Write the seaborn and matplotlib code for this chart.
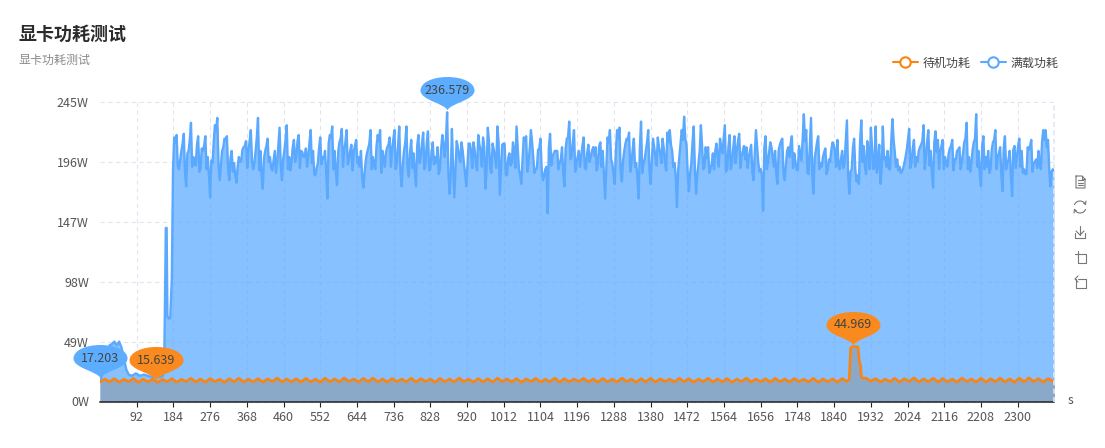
import numpy as np
import pandas as pd
import matplotlib
matplotlib.use("Agg")
import matplotlib.pyplot as plt
import seaborn as sns
from matplotlib.lines import Line2D
from matplotlib.path import Path
from matplotlib.patches import Arc

# values
x_ticks = [92 * i for i in range(1, 26)]
y_ticks = [0, 49, 98, 147, 196, 245]
x_end = 2391

# full load series: warm-up part, then peaks/dips every 6 s from t=186 with a
# reading from the dense middle band between each of them
startup_t = [0, 6, 12, 18, 24, 30, 36, 42, 48, 54, 60, 66, 72, 80, 90, 100, 110, 120, 130, 140, 150, 158, 161, 163, 165, 167, 169, 172, 176, 180, 183]
startup_w = [17.2, 22, 30, 38, 46, 47, 49, 46, 49, 44, 35, 26, 22, 21, 23, 21, 22, 21, 20, 20, 20, 21, 30, 90, 142, 142, 70, 68, 68, 100, 190]
load_w = [
    216, 218, 190, 205, 219, 176, 205, 228, 200, 193, 217, 190, 205, 217, 200, 167, 195, 226, 232, 181,
    205, 215, 217, 181, 205, 195, 179, 200, 197, 208, 213, 205, 222, 190, 205, 232, 205, 174, 205, 215,
    200, 189, 205, 195, 224, 181, 205, 226, 200, 195, 214, 200, 218, 205, 200, 207, 200, 222, 205, 185,
    195, 216, 200, 205, 166, 218, 225, 205, 177, 212, 223, 205, 222, 197, 210, 205, 214, 200, 205, 175,
    197, 207, 222, 200, 190, 218, 222, 205, 192, 208, 216, 205, 222, 195, 225, 176, 205, 225, 184, 214,
    203, 176, 218, 200, 220, 195, 221, 190, 212, 200, 208, 190, 218, 200, 236.579, 170, 223, 167, 213, 200,
    212, 195, 176, 211, 205, 212, 195, 218, 205, 216, 174, 224, 190, 211, 200, 225, 169, 210, 211, 185,
    203, 195, 205, 225, 190, 178, 216, 217, 195, 222, 200, 190, 206, 215, 181, 190, 154, 219, 200, 205,
    205, 195, 208, 176, 215, 229, 200, 222, 195, 205, 200, 216, 190, 210, 200, 208, 208, 195, 212, 205,
    166, 216, 222, 195, 178, 222, 224, 180, 205, 215, 220, 195, 215, 195, 166, 229, 195, 205, 222, 178,
    215, 200, 216, 203, 215, 195, 220, 222, 205, 195, 159, 200, 222, 233, 210, 172, 195, 225, 170, 195,
    226, 190, 208, 208, 190, 203, 205, 200, 215, 203, 226, 190, 218, 195, 217, 205, 219, 200, 209, 208,
    200, 210, 181, 222, 195, 190, 156, 217, 195, 212, 200, 205, 178, 210, 215, 181, 205, 200, 217, 203,
    190, 209, 197, 235, 222, 186, 232, 170, 205, 217, 195, 200, 207, 190, 196, 212, 205, 214, 190, 205,
    195, 230, 170, 190, 215, 180, 178, 230, 209, 186, 205, 224, 190, 225, 195, 178, 225, 200, 205, 190,
    231, 204, 198, 192, 188, 195, 206, 223, 196, 214, 200, 205, 210, 226, 200, 222, 205, 175, 221, 214,
    205, 214, 200, 192, 207, 214, 198, 205, 208, 195, 212, 228, 200, 195, 212, 235, 205, 176, 217, 200,
    205, 190, 212, 222, 200, 208, 172, 217, 195, 205, 168, 209, 200, 215, 205, 190, 186, 206, 214, 195,
    198, 205, 190, 222, 222, 214, 176, 190,
]
load_mid = [
    212, 192, 198, 211, 187, 203, 214, 192, 196, 210, 188, 207, 209, 190, 186, 197, 212, 222, 195, 193,
    208, 214, 191, 199, 188, 185, 192, 196, 206, 209, 191, 213, 197, 195, 216, 189, 185, 199, 209, 196,
    191, 197, 187, 209, 193, 198, 214, 190, 189, 208, 196, 213, 191, 204, 200, 192, 212, 195, 186, 191,
    207, 194, 199, 187, 211, 216, 190, 188, 204, 215, 192, 212, 194, 205, 189, 209, 195, 192, 184, 187,
    203, 211, 190, 193, 209, 213, 187, 199, 204, 210, 192, 214, 190, 209, 188, 194, 212, 190, 203, 191,
    187, 209, 195, 211, 190, 212, 189, 204, 194, 195, 186, 207, 210, 214, 188, 186, 192, 190, 208, 196,
    205, 187, 194, 211, 191, 206, 189, 210, 192, 208, 190, 212, 187, 206, 191, 212, 190, 211, 186, 199,
    193, 212, 191, 208, 185, 198, 213, 188, 207, 212, 187, 191, 207, 190, 184, 192, 208, 193, 203, 205,
    190, 198, 186, 207, 216, 198, 212, 188, 200, 192, 209, 191, 203, 196, 205, 201, 189, 209, 192, 186,
    191, 212, 198, 186, 205, 215, 188, 197, 211, 214, 188, 206, 192, 183, 207, 187, 198, 212, 190, 196,
    208, 193, 208, 195, 207, 189, 212, 210, 192, 184, 189, 211, 214, 215, 186, 187, 212, 190, 185, 205,
    209, 192, 199, 187, 194, 190, 211, 192, 207, 214, 188, 208, 190, 207, 195, 213, 191, 205, 198, 191,
    205, 187, 203, 209, 188, 185, 207, 190, 204, 208, 192, 186, 206, 213, 187, 193, 208, 211, 191, 196,
    189, 203, 214, 213, 187, 208, 186, 199, 212, 190, 192, 204, 186, 198, 206, 210, 192, 194, 198, 191,
    213, 186, 188, 207, 190, 185, 212, 196, 192, 213, 190, 208, 191, 187, 210, 189, 198, 192, 190, 212,
    214, 192, 189, 187, 191, 200, 214, 191, 207, 192, 196, 208, 213, 190, 212, 193, 186, 212, 204, 190,
    209, 190, 194, 203, 209, 189, 198, 206, 190, 203, 215, 190, 188, 206, 215, 192, 186, 209, 190, 192,
    187, 206, 214, 190, 203, 186, 207, 190, 198, 185, 206, 191, 209, 192, 187, 186, 208, 209, 188, 196,
    191, 195, 212, 214, 208, 190, 188, 190,
]

# idle series: one reading every 12 s, with the bump near t=1890 kept apart
idle_head_w = [
    15.9, 18.4, 16.1, 18.7, 15.8, 18.2, 16.3, 18.8, 15.7, 18.3, 16.0, 18.5, 15.64, 18.2, 16.2, 18.7, 15.9, 18.1, 16.4, 19.0,
    16.0, 18.4, 15.8, 18.8, 16.3, 18.2, 15.7, 18.7, 16.1, 19.1, 15.9, 18.3, 16.0, 18.8, 15.8, 18.5, 16.4, 19.2, 16.0, 18.4,
    16.2, 18.7, 15.9, 18.9, 16.1, 18.3, 15.8, 19.1, 16.3, 18.5, 16.0, 19.3, 16.4, 18.4, 15.9, 19.0, 16.2, 19.2, 16.0, 18.5,
    15.8, 18.8, 16.3, 18.3, 16.1, 19.1, 15.9, 18.7, 16.4, 18.4, 15.7, 19.0, 16.2, 18.5, 16.0, 19.2, 16.3, 18.3, 15.8, 18.8,
    16.1, 18.7, 15.9, 19.1, 16.4, 18.4, 16.0, 18.8, 15.7, 18.5, 16.3, 19.0, 15.9, 18.3, 16.2, 19.2, 15.8, 18.7, 16.1, 18.4,
    16.4, 19.0, 16.0, 18.5, 15.8, 18.8, 16.2, 18.3, 15.9, 19.1, 16.3, 18.4, 15.7, 18.7, 16.1, 19.0, 15.9, 18.5, 16.4, 18.3,
    16.0, 19.1, 16.2, 18.7, 15.8, 18.4, 16.3, 19.0, 15.9, 18.5, 16.1, 18.8, 15.7, 18.3, 16.4, 19.1, 16.0, 18.4, 16.2, 18.7,
    15.8, 19.0, 16.1, 18.5, 15.9, 18.8, 16.3, 18.3, 16.0, 19.0, 15.7, 18.5, 16.2, 18.4, 15.9, 18.8, 16.3,
]
idle_bump_t = [1878, 1881, 1884, 1892, 1900, 1903, 1906, 1908, 1912]
idle_bump_w = [18.5, 43.5, 44.6, 44.969, 44.6, 33, 30, 20.5, 19]
idle_tail_w = [
    19.2, 16.6, 18.8, 16.0, 18.4, 16.2, 19.0, 15.8, 18.7, 16.3, 19.3, 16.0, 18.5, 16.1, 19.1, 15.9, 18.8, 16.2, 18.3, 15.8,
    19.2, 16.3, 18.4, 16.0, 19.0, 15.9, 18.7, 16.2, 19.2, 16.0, 18.5, 15.8, 19.1, 16.1, 19.4, 16.3, 18.7, 16.0, 18.8, 16.6,
    18.4,
]

# pin labels: time, value, text
load_pins = [(0, 17.203, "17.203"), (870, 236.579, "236.579")]
idle_pins = [(140, 15.639, "15.639"), (1887, 44.969, "44.969")]

blue = "#5AA9FF"
orange = "#FB8410"
grid_color = "#E0E6F1"
text_color = "#555555"

sns.set_theme(style="white")
plt.rcParams["font.family"] = ["Noto Sans CJK SC", "DejaVu Sans"]

load_dense = np.column_stack([load_w, load_mid]).ravel()
load_df = pd.DataFrame({
    "t": np.concatenate([startup_t, 186 + 3 * np.arange(len(load_dense))]),
    "w": np.concatenate([startup_w, load_dense]),
})
idle_df = pd.DataFrame({
    "t": np.concatenate([12 * np.arange(len(idle_head_w)), idle_bump_t, 1920 + 12 * np.arange(len(idle_tail_w))]),
    "w": np.concatenate([idle_head_w, idle_bump_w, idle_tail_w]),
})

fig = plt.figure(figsize=(11.05, 4.48), dpi=100)
ax = fig.add_axes([100 / 1105, 1 - 401.5 / 448, 954 / 1105, 299.5 / 448])
ax.set_xlim(0, x_end)
ax.set_ylim(0, 245)
ax.set_axisbelow(True)

# area first, then line on top
ax.fill_between(load_df["t"], load_df["w"], color=blue, alpha=0.72, lw=0, zorder=1)
ax.fill_between(idle_df["t"], idle_df["w"], color="#8AA8C8", lw=0, zorder=1.5)
sns.lineplot(data=load_df, x="t", y="w", color=blue, lw=1.7, estimator=None, sort=False, ax=ax, zorder=2)
sns.lineplot(data=idle_df, x="t", y="w", color=orange, lw=1.9, estimator=None, sort=False, ax=ax, zorder=3)

ax.set_xticks(x_ticks, [str(v) for v in x_ticks])
ax.set_yticks(y_ticks, [f"{v}W" for v in y_ticks])
ax.grid(True, color=grid_color, lw=0.8, ls=(0, (4, 3)))
for line in ax.get_xgridlines() + ax.get_ygridlines():
    line.set_clip_on(False)
ax.axvline(x_end, color=grid_color, lw=1.2, ls=(0, (3, 2)), clip_on=False, zorder=4)
ax.tick_params(axis="x", length=3.6, width=0.8, color="#222222", labelsize=9, labelcolor=text_color, pad=3, bottom=True)
ax.tick_params(axis="y", length=0, labelsize=9, labelcolor=text_color, pad=8)
sns.despine(ax=ax, left=True)
ax.spines["bottom"].set_color("#222222")
ax.spines["bottom"].set_linewidth(1.1)

# the pin marker: tip just above the data point, oval above it
pin = Path(
    [(0, 2), (-2, 9), (-27, 12), (-27, 22), (-27, 30), (-15, 35.5), (0, 35.5),
     (15, 35.5), (27, 30), (27, 22), (27, 12), (2, 9), (0, 2), (0, 2)],
    [Path.MOVETO] + [Path.CURVE4] * 12 + [Path.CLOSEPOLY],
)
for pins, color in [(load_pins, "#5CADFF"), (idle_pins, "#FA8A1E")]:
    sns.scatterplot(x=[p[0] for p in pins], y=[p[1] for p in pins], marker=pin, s=2613, color=color,
                    linewidth=0, clip_on=False, zorder=6, legend=False, ax=ax)
    for t, w, label in pins:
        ax.annotate(label, (t, w), xytext=(0, 15.8), textcoords="offset points", ha="center", va="center",
                    fontsize=9, color="#444444", zorder=7, annotation_clip=False)
ax.set_xlabel("")
ax.set_ylabel("")

# page level stuff in pixel coordinates
page = fig.add_axes([0, 0, 1, 1], zorder=10)
page.set_xlim(0, 1105)
page.set_ylim(448, 0)
page.axis("off")
page.text(18.5, 35, "显卡功耗测试", fontsize=12.96, fontweight="bold", color="#2B2B2B", va="center")
page.text(19, 60, "显卡功耗测试", fontsize=8.64, color="#8A8A8A", va="center")
page.text(1068, 401, "s", fontsize=8.64, color=text_color, va="center")

handles = [
    Line2D([], [], color=orange, lw=1.5, marker="o", ms=7.5, mfc="white", mec=orange, mew=1.5),
    Line2D([], [], color=blue, lw=1.5, marker="o", ms=7.5, mfc="white", mec=blue, mew=1.5),
]
page.legend(handles, ["待机功耗", "满载功耗"], ncol=2, loc="center left", bbox_to_anchor=(893, 63),
            bbox_transform=page.transData, frameon=False, fontsize=8.64, labelcolor="#444444",
            borderpad=0, borderaxespad=0, handlelength=2.08, handletextpad=0.42, columnspacing=0.83)

# toolbox icons on the right
icon = dict(color="#777777", lw=0.8, solid_capstyle="round")
page.plot([1076, 1082, 1085, 1085, 1076, 1076], [176, 176, 179, 188, 188, 176], **icon)
page.plot([1082, 1082, 1085], [176, 179, 179], **icon)
for yy in [180, 183, 185.5]:
    page.plot([1078, 1083], [yy, yy], **icon)
page.add_patch(Arc((1080, 207), 12, 12, theta1=200, theta2=340, color="#777777", lw=0.8))
page.add_patch(Arc((1080, 207), 12, 12, theta1=20, theta2=160, color="#777777", lw=0.8))
page.plot([1083.5, 1085.5, 1086], [203, 204.5, 201], **icon)
page.plot([1076.5, 1074.5, 1074], [211, 209.5, 213], **icon)
page.plot([1080, 1080], [226, 235], **icon)
page.plot([1076, 1080, 1084], [231, 235, 231], **icon)
page.plot([1075, 1075, 1085, 1085], [233, 238, 238, 233], **icon)
page.plot([1078, 1086, 1086, 1078, 1078], [254, 254, 263, 263, 251], **icon)
page.plot([1074.5, 1078], [254, 254], **icon)
page.plot([1078, 1086, 1086, 1076, 1076], [279, 279, 288, 288, 279], **icon)
page.plot([1078, 1075, 1078], [276, 279, 282], **icon)

fig.savefig("out.png", dpi=100)
